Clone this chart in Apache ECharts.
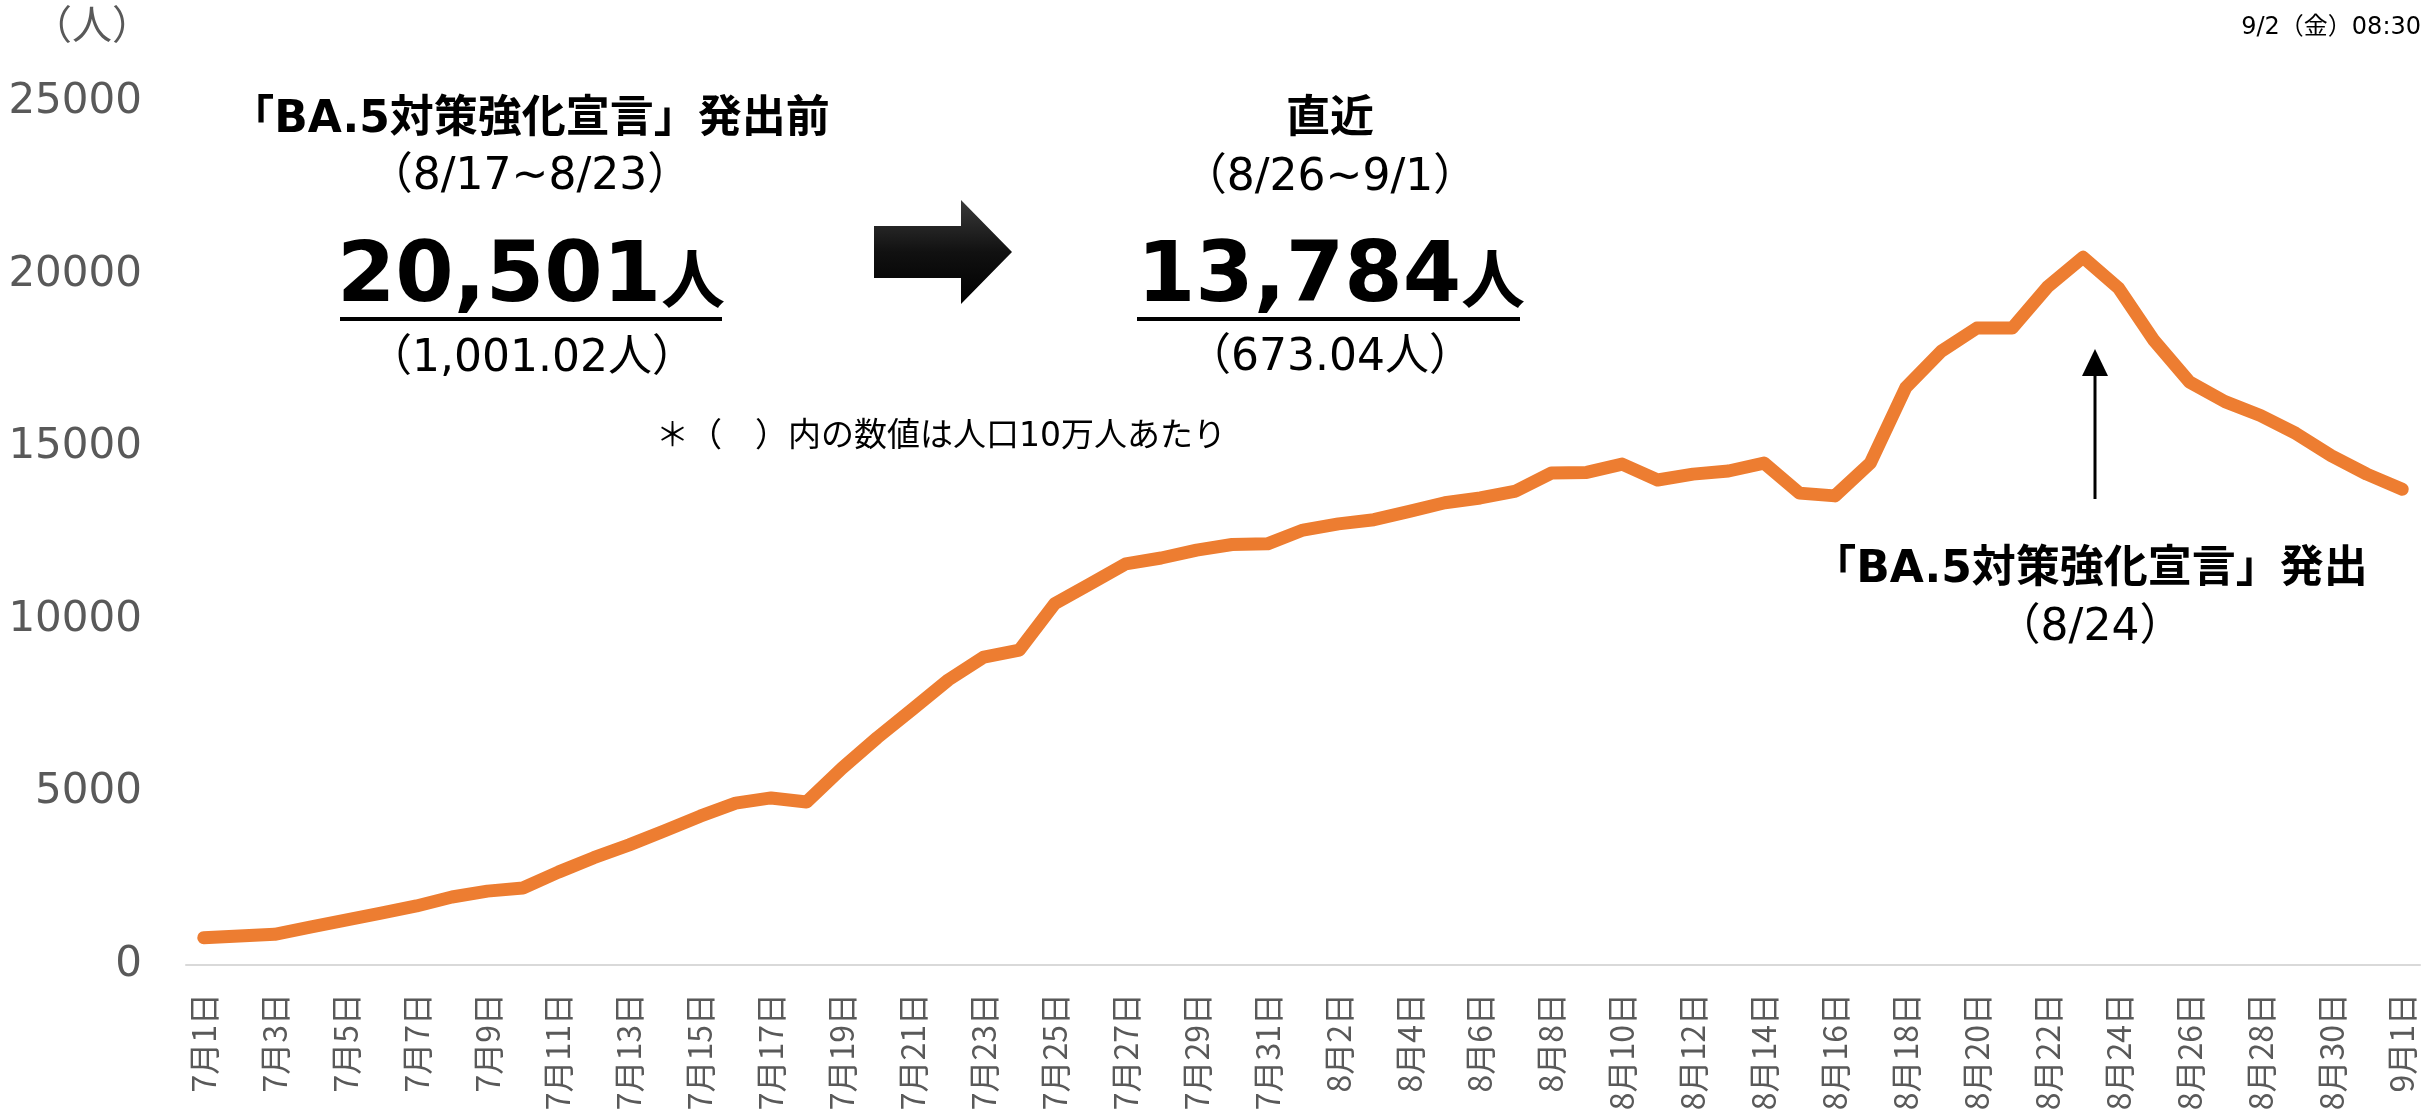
<!DOCTYPE html>
<html>
<head>
<meta charset="utf-8">
<script src="https://cdn.jsdelivr.net/npm/echarts@6/dist/echarts.min.js"></script>
<style>
  html, body { margin: 0; padding: 0; background: #fff; }
  #chart { width: 2425px; height: 1109px; }
</style>
</head>
<body>
<div id="chart"></div>
<script>
// 日付（7/1〜9/1）
const days = [
  '7月1日','7月2日','7月3日','7月4日','7月5日','7月6日','7月7日','7月8日','7月9日','7月10日',
  '7月11日','7月12日','7月13日','7月14日','7月15日','7月16日','7月17日','7月18日','7月19日','7月20日',
  '7月21日','7月22日','7月23日','7月24日','7月25日','7月26日','7月27日','7月28日','7月29日','7月30日',
  '7月31日','8月1日','8月2日','8月3日','8月4日','8月5日','8月6日','8月7日','8月8日','8月9日',
  '8月10日','8月11日','8月12日','8月13日','8月14日','8月15日','8月16日','8月17日','8月18日','8月19日',
  '8月20日','8月21日','8月22日','8月23日','8月24日','8月25日','8月26日','8月27日','8月28日','8月29日',
  '8月30日','8月31日','9月1日'
]
// 陽性者数（7日間平均）
const weekAvg = [
  790, 840, 890, 1100, 1300, 1500, 1710, 1970, 2140, 2230,
  2690, 3110, 3480, 3890, 4310, 4690, 4840, 4720, 5700, 6590,
  7420, 8260, 8920, 9120, 10470, 11040, 11620, 11790, 12020, 12180,
  12200, 12600, 12780, 12900, 13140, 13390, 13530, 13730, 14250, 14270,
  14510, 14050, 14220, 14310, 14540, 13670, 13590, 14540, 16730, 17780,
  18450, 18450, 19650, 20501, 19610, 18090, 16890, 16320, 15920, 15400,
  14750, 14220, 13784
]
const yTicks = { min: 0, max: 25000, interval: 5000 }

const JP = "'DejaVu Sans','Noto Sans CJK JP',sans-serif"
const CJK = "'Noto Sans CJK JP',sans-serif"

let chart = echarts.init(document.getElementById('chart'))

// テキスト（注記）
function txt(x, y, text, size, bold, color) {
  return {
    type: 'text', z: 10,
    style: {
      x: x, y: y, text: text, fill: color || '#000',
      fontSize: size, fontWeight: bold ? 'bold' : 'normal', fontFamily: JP,
      textAlign: 'center', textVerticalAlign: 'middle'
    }
  }
}
function bigNum(x, y, num) {
  return {
    type: 'text', z: 10,
    style: {
      x: x, y: y, text: '{n|' + num + '}{u|人}',
      textAlign: 'center', textVerticalAlign: 'middle',
      rich: {
        n: { fontSize: 84, fontWeight: 'bold', fontFamily: JP, fill: '#000' },
        u: { fontSize: 64, fontWeight: 'bold', fontFamily: CJK, fill: '#000' }
      }
    }
  }
}
function uline(x1, x2, y) {
  return { type: 'line', z: 10, shape: { x1: x1, y1: y, x2: x2, y2: y }, style: { stroke: '#000', lineWidth: 4 } }
}

chart.setOption({
  backgroundColor: '#fff',
  animation: false,
  grid: { left: 186, right: 5, top: 102, bottom: 144, containLabel: false, outerBoundsMode: 'none' },
  xAxis: {
    type: 'category',
    data: days,
    boundaryGap: true,
    axisLine: { lineStyle: { color: '#D9D9D9', width: 2 } },
    axisTick: { show: false },
    axisLabel: {
      interval: 1, rotate: 90, margin: 28,
      color: '#595959', fontSize: 32, fontFamily: CJK
    }
  },
  yAxis: {
    type: 'value',
    min: yTicks.min, max: yTicks.max, interval: yTicks.interval,
    splitLine: { show: false },
    axisLine: { show: false },
    axisLabel: {
      color: '#595959', fontSize: 42, fontFamily: "'DejaVu Sans',sans-serif", margin: 44,
      formatter: function (v) { return String(v) }
    }
  },
  series: [{
    type: 'line',
    data: weekAvg,
    symbol: 'none',
    lineStyle: { color: '#ED7D31', width: 13, cap: 'round', join: 'round' }
  }],
  graphic: [
    txt(92, 29, '（人）', 40, false, '#595959'),
    { type: 'text', z: 10, style: { x: 2421, y: 28, text: '9/2（金）08:30', fill: '#000', fontSize: 24, fontFamily: JP, textAlign: 'right', textVerticalAlign: 'middle' } },

    txt(530, 121, '「BA.5対策強化宣言」発出前', 44, true),
    txt(530, 178, '（8/17~8/23）', 44, false),
    bigNum(531, 279, '20,501'),
    uline(340, 722, 319),
    txt(532, 360, '（1,001.02人）', 44, false),
    txt(941, 437, '＊（　）内の数値は人口10万人あたり', 33, false),

    {
      type: 'polygon', z: 10,
      shape: { points: [[874, 226], [961, 226], [961, 200], [1012, 252], [961, 304], [961, 278], [874, 278]] },
      style: { fill: new echarts.graphic.LinearGradient(0, 0, 0, 1, [
        { offset: 0, color: '#3a3a3a' }, { offset: 0.5, color: '#111' }, { offset: 1, color: '#000' }
      ]) }
    },

    txt(1330, 121, '直近', 44, true),
    txt(1330, 179, '（8/26~9/1）', 44, false),
    bigNum(1331, 279, '13,784'),
    uline(1137, 1520, 319),
    txt(1330, 359, '（673.04人）', 44, false),

    { type: 'line', z: 10, shape: { x1: 2095, y1: 499, x2: 2095, y2: 372 }, style: { stroke: '#000', lineWidth: 3 } },
    { type: 'polygon', z: 10, shape: { points: [[2095, 349], [2108, 376], [2082, 376]] }, style: { fill: '#000' } },
    txt(2090, 571, '「BA.5対策強化宣言」発出', 44, true),
    txt(2090, 629, '（8/24）', 44, false)
  ]
})
</script>
</body>
</html>
